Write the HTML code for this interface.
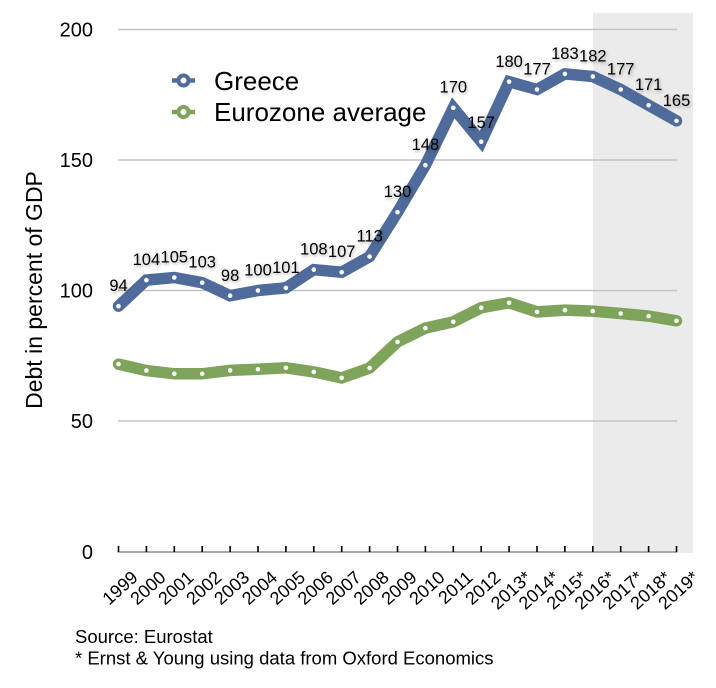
<!DOCTYPE html>
<html><head><meta charset="utf-8"><style>
html,body{margin:0;padding:0;background:#fff;}
svg{display:block;font-family:"Liberation Sans",Arial,sans-serif;}
.lbl{font-size:16.5px;fill:#000;filter:url(#sh);}
</style></head><body>
<svg width="716" height="688" viewBox="0 0 716 688" xmlns="http://www.w3.org/2000/svg">
<defs>
<filter id="sh" x="-30%" y="-50%" width="160%" height="200%">
<feDropShadow dx="1" dy="1.5" stdDeviation="1.6" flood-color="#000" flood-opacity="0.35"/>
</filter>
</defs>
<rect x="593" y="13" width="100" height="540" fill="#ebebeb"/>
<g stroke="#c4c4c4" stroke-width="1.5">
<line x1="118" y1="29.5" x2="677" y2="29.5"/>
<line x1="118" y1="160" x2="677" y2="160"/>
<line x1="118" y1="290.5" x2="677" y2="290.5"/>
<line x1="118" y1="421" x2="677" y2="421"/>
</g>
<line x1="117.5" y1="552" x2="677" y2="552" stroke="#aaa" stroke-width="2"/>
<g stroke="#000" stroke-width="1.6">
<line x1="118.5" y1="546" x2="118.5" y2="552"/><line x1="146.4" y1="546" x2="146.4" y2="552"/><line x1="174.3" y1="546" x2="174.3" y2="552"/><line x1="202.2" y1="546" x2="202.2" y2="552"/><line x1="230.1" y1="546" x2="230.1" y2="552"/><line x1="258" y1="546" x2="258" y2="552"/><line x1="285.9" y1="546" x2="285.9" y2="552"/><line x1="313.8" y1="546" x2="313.8" y2="552"/><line x1="341.7" y1="546" x2="341.7" y2="552"/><line x1="369.6" y1="546" x2="369.6" y2="552"/><line x1="397.5" y1="546" x2="397.5" y2="552"/><line x1="425.4" y1="546" x2="425.4" y2="552"/><line x1="453.3" y1="546" x2="453.3" y2="552"/><line x1="481.2" y1="546" x2="481.2" y2="552"/><line x1="509.1" y1="546" x2="509.1" y2="552"/><line x1="537" y1="546" x2="537" y2="552"/><line x1="564.9" y1="546" x2="564.9" y2="552"/><line x1="592.8" y1="546" x2="592.8" y2="552"/><line x1="620.7" y1="546" x2="620.7" y2="552"/><line x1="648.6" y1="546" x2="648.6" y2="552"/><line x1="676.5" y1="546" x2="676.5" y2="552"/>
</g>
<g font-size="20" text-anchor="end" fill="#000">
<text x="93" y="36.5">200</text>
<text x="93" y="167">150</text>
<text x="93" y="297.5">100</text>
<text x="93" y="428">50</text>
<text x="93" y="559">0</text>
</g>
<text transform="translate(42,290) rotate(-90)" text-anchor="middle" font-size="23" fill="#000">Debt in percent of GDP</text>

<polyline fill="none" stroke="#7ea35b" stroke-width="11.5" stroke-linejoin="miter" stroke-linecap="round" points="118.5,364.1 146.4,370.6 174.3,373.8 202.2,373.8 230.1,370.4 258,369.3 285.9,367.8 313.8,371.9 341.7,377.9 369.6,368 397.5,341.9 425.4,328.1 453.3,321.8 481.2,307.7 509.1,302.8 537,311.9 564.9,310.1 592.8,311.1 620.7,313.5 648.6,316.1 676.5,320.8"/>
<g fill="#fff">
<circle cx="118.5" cy="364.1" r="2.3"/><circle cx="146.4" cy="370.6" r="2.3"/><circle cx="174.3" cy="373.8" r="2.3"/><circle cx="202.2" cy="373.8" r="2.3"/><circle cx="230.1" cy="370.4" r="2.3"/><circle cx="258" cy="369.3" r="2.3"/><circle cx="285.9" cy="367.8" r="2.3"/><circle cx="313.8" cy="371.9" r="2.3"/><circle cx="341.7" cy="377.9" r="2.3"/><circle cx="369.6" cy="368" r="2.3"/><circle cx="397.5" cy="341.9" r="2.3"/><circle cx="425.4" cy="328.1" r="2.3"/><circle cx="453.3" cy="321.8" r="2.3"/><circle cx="481.2" cy="307.7" r="2.3"/><circle cx="509.1" cy="302.8" r="2.3"/><circle cx="537" cy="311.9" r="2.3"/><circle cx="564.9" cy="310.1" r="2.3"/><circle cx="592.8" cy="311.1" r="2.3"/><circle cx="620.7" cy="313.5" r="2.3"/><circle cx="648.6" cy="316.1" r="2.3"/><circle cx="676.5" cy="320.8" r="2.3"/>
</g>

<polyline fill="none" stroke="#4f6b9c" stroke-width="11.5" stroke-linejoin="miter" stroke-miterlimit="10" stroke-linecap="round" points="118.5,306.2 146.4,280.1 174.3,277.5 202.2,282.7 230.1,295.7 258,290.5 285.9,287.9 313.8,269.6 341.7,272.2 369.6,256.6 397.5,212.2 425.4,165.2 453.3,107.8 481.2,141.7 509.1,81.7 537,89.5 564.9,73.9 592.8,76.5 620.7,89.5 648.6,105.2 676.5,120.9"/>
<g fill="#fff">
<circle cx="118.5" cy="306.2" r="2.3"/><circle cx="146.4" cy="280.1" r="2.3"/><circle cx="174.3" cy="277.5" r="2.3"/><circle cx="202.2" cy="282.7" r="2.3"/><circle cx="230.1" cy="295.7" r="2.3"/><circle cx="258" cy="290.5" r="2.3"/><circle cx="285.9" cy="287.9" r="2.3"/><circle cx="313.8" cy="269.6" r="2.3"/><circle cx="341.7" cy="272.2" r="2.3"/><circle cx="369.6" cy="256.6" r="2.3"/><circle cx="397.5" cy="212.2" r="2.3"/><circle cx="425.4" cy="165.2" r="2.3"/><circle cx="453.3" cy="107.8" r="2.3"/><circle cx="481.2" cy="141.7" r="2.3"/><circle cx="509.1" cy="81.7" r="2.3"/><circle cx="537" cy="89.5" r="2.3"/><circle cx="564.9" cy="73.9" r="2.3"/><circle cx="592.8" cy="76.5" r="2.3"/><circle cx="620.7" cy="89.5" r="2.3"/><circle cx="648.6" cy="105.2" r="2.3"/><circle cx="676.5" cy="120.9" r="2.3"/>
</g>

<g text-anchor="middle">
<text class="lbl" x="118.5" y="291">94</text>
<text class="lbl" x="146.4" y="265">104</text>
<text class="lbl" x="174.3" y="262.5">105</text>
<text class="lbl" x="202.2" y="267.5">103</text>
<text class="lbl" x="230.1" y="281">98</text>
<text class="lbl" x="258" y="275.5">100</text>
<text class="lbl" x="285.9" y="273">101</text>
<text class="lbl" x="313.8" y="254.5">108</text>
<text class="lbl" x="341.7" y="257">107</text>
<text class="lbl" x="369.6" y="241.5">113</text>
<text class="lbl" x="397.5" y="197">130</text>
<text class="lbl" x="425.4" y="150">148</text>
<text class="lbl" x="453.3" y="92.5">170</text>
<text class="lbl" x="481.2" y="128">157</text>
<text class="lbl" x="509.1" y="67">180</text>
<text class="lbl" x="537" y="74.5">177</text>
<text class="lbl" x="564.9" y="59">183</text>
<text class="lbl" x="592.8" y="61.5">182</text>
<text class="lbl" x="620.7" y="74.5">177</text>
<text class="lbl" x="648.6" y="90">171</text>
<text class="lbl" x="676.5" y="106">165</text>
</g>

<g font-size="18" text-anchor="end" fill="#000">
<text transform="translate(139,579) rotate(-42)">1999</text>
<text transform="translate(166.9,579) rotate(-42)">2000</text>
<text transform="translate(194.8,579) rotate(-42)">2001</text>
<text transform="translate(222.7,579) rotate(-42)">2002</text>
<text transform="translate(250.6,579) rotate(-42)">2003</text>
<text transform="translate(278.5,579) rotate(-42)">2004</text>
<text transform="translate(306.4,579) rotate(-42)">2005</text>
<text transform="translate(334.3,579) rotate(-42)">2006</text>
<text transform="translate(362.2,579) rotate(-42)">2007</text>
<text transform="translate(390.1,579) rotate(-42)">2008</text>
<text transform="translate(418,579) rotate(-42)">2009</text>
<text transform="translate(445.9,579) rotate(-42)">2010</text>
<text transform="translate(473.8,579) rotate(-42)">2011</text>
<text transform="translate(501.7,579) rotate(-42)">2012</text>
<text transform="translate(532.6,579) rotate(-42)">2013*</text>
<text transform="translate(560.5,579) rotate(-42)">2014*</text>
<text transform="translate(588.4,579) rotate(-42)">2015*</text>
<text transform="translate(616.3,579) rotate(-42)">2016*</text>
<text transform="translate(644.2,579) rotate(-42)">2017*</text>
<text transform="translate(672.1,579) rotate(-42)">2018*</text>
<text transform="translate(700,579) rotate(-42)">2019*</text>
</g>

<line x1="172" y1="80.5" x2="195" y2="80.5" stroke="#4f6b9c" stroke-width="4.5"/>
<circle cx="183.5" cy="80.5" r="5" fill="#fff" stroke="#4f6b9c" stroke-width="4"/>
<line x1="172" y1="112" x2="195" y2="112" stroke="#7ea35b" stroke-width="4.5"/>
<circle cx="183.5" cy="112" r="5" fill="#fff" stroke="#7ea35b" stroke-width="4"/>
<text x="214" y="90" font-size="26" fill="#000">Greece</text>
<text x="214" y="121" font-size="26" fill="#000">Eurozone average</text>

<text x="75" y="643" font-size="18.5" fill="#000">Source: Eurostat</text>
<text x="75" y="664.5" font-size="18.5" fill="#000">* Ernst &amp; Young using data from Oxford Economics</text>
</svg>
</body></html>
